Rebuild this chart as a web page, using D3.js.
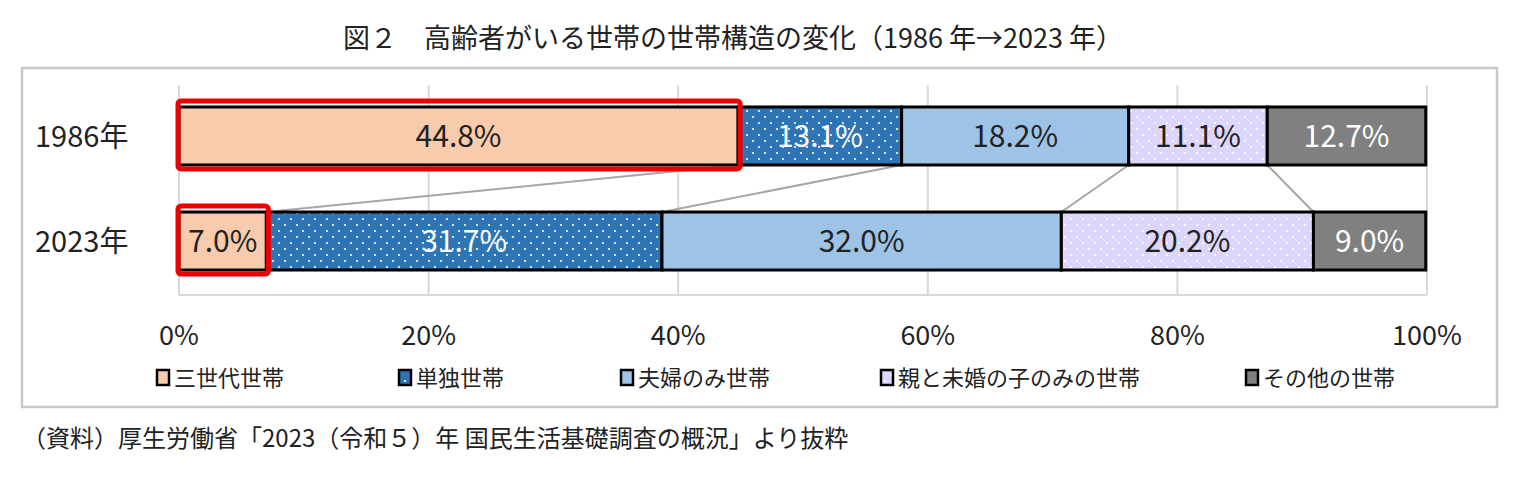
<!DOCTYPE html><html><head><meta charset="utf-8"><script src="https://d3js.org/d3.v7.min.js"></script>
<style>body{margin:0;background:#fff}text{font-family:"Noto Sans CJK JP","Noto Sans",sans-serif}</style></head><body>
<script>
const years=["1986年","2023年"];
const series=["三世代世帯","単独世帯","夫婦のみ世帯","親と未婚の子のみの世帯","その他の世帯"];
const v1986=[44.8,13.1,18.2,11.1,12.7];
const v2023=[7.0,31.7,32.0,20.2,9.0];
const ticks=[0,20,40,60,80,100];
const colors=["#F8CBAD","#2E75B6","#9DC3E6","#DCD6FC","#808080"];
const labelColors=["#222","#fff","#222","#222","#fff"];
const dotted=[false,true,false,true,false];
const W=1523,H=478;
const svg=d3.select("body").append("svg").attr("width",W).attr("height",H);
const defs=svg.append("defs");
colors.forEach((c,i)=>{if(!dotted[i])return;
 const p=defs.append("pattern").attr("id","p"+i).attr("width",12).attr("height",12).attr("patternUnits","userSpaceOnUse");
 p.append("rect").attr("width",12).attr("height",12).attr("fill",c);
 p.append("circle").attr("cx",3).attr("cy",3).attr("r",1.1).attr("fill","#fff");
 p.append("circle").attr("cx",9).attr("cy",9).attr("r",1.1).attr("fill","#fff");});
svg.append("text").attr("x",733).attr("y",48).attr("text-anchor","middle").attr("font-size",27).attr("fill","#222").text("図２　高齢者がいる世帯の世帯構造の変化（1986 年→2023 年）");
svg.append("rect").attr("x",22).attr("y",68).attr("width",1475).attr("height",339).attr("fill","none").attr("stroke","#c8c8c8").attr("stroke-width",2.5);
const x=d3.scaleLinear().domain([0,100]).range([179,1427]);
const y=d3.scaleBand().domain(years).range([80,297]).paddingInner(0.448).paddingOuter(0.257);
ticks.forEach(t=>svg.append("line").attr("x1",x(t)).attr("x2",x(t)).attr("y1",85).attr("y2",295).attr("stroke","#d9d9d9").attr("stroke-width",2));
svg.append("line").attr("x1",x(0)).attr("x2",x(100)).attr("y1",295).attr("y2",295).attr("stroke","#d9d9d9").attr("stroke-width",2);
const data=[v1986,v2023];
const cums=data.map(v=>{let s=0;return v.map(d=>{const a=s;s+=d;return [a,s];});});
for(let i=0;i<4;i++){
 svg.append("line").attr("x1",x(cums[0][i][1])).attr("y1",y(years[0])+y.bandwidth()).attr("x2",x(cums[1][i][1])).attr("y2",y(years[1])).attr("stroke","#a6a6a6").attr("stroke-width",2);
}
data.forEach((v,r)=>{
 const g=svg.append("g");
 g.selectAll("rect").data(v).join("rect").attr("x",(d,i)=>x(cums[r][i][0])).attr("width",(d,i)=>x(cums[r][i][1])-x(cums[r][i][0]))
  .attr("y",y(years[r])).attr("height",y.bandwidth()).attr("fill",(d,i)=>dotted[i]?"url(#p"+i+")":colors[i]).attr("stroke","#000").attr("stroke-width",3);
 g.selectAll("text").data(v).join("text").attr("x",(d,i)=>(x(cums[r][i][0])+x(cums[r][i][1]))/2).attr("y",y(years[r])+y.bandwidth()/2+11)
  .attr("text-anchor","middle").attr("font-size",30).attr("fill",(d,i)=>labelColors[i]).text(d=>d.toFixed(1)+"%");
 svg.append("text").attr("x",35).attr("y",y(years[r])+y.bandwidth()/2+11).attr("font-size",29).attr("fill","#222").text(years[r]);
 svg.append("rect").attr("x",x(0)-1).attr("y",y(years[r])-6).attr("width",x(cums[r][0][1])-x(0)+3).attr("height",y.bandwidth()+10)
  .attr("rx",3).attr("fill","none").attr("stroke","#ee0000").attr("stroke-width",5);
});
ticks.forEach(t=>svg.append("text").attr("x",x(t)).attr("y",345).attr("text-anchor","middle").attr("font-size",27).attr("fill","#222").text(t+"%"));
const lx=[157,399,621,881,1246];
series.forEach((s,i)=>{
 svg.append("rect").attr("x",lx[i]).attr("y",370).attr("width",12).attr("height",15).attr("fill",dotted[i]?"url(#p"+i+")":colors[i]).attr("stroke","#000").attr("stroke-width",2.5);
 svg.append("text").attr("x",lx[i]+17).attr("y",386).attr("font-size",22).attr("fill","#222").text(s);
});
svg.append("text").attr("x",22).attr("y",447).attr("font-size",24).attr("fill","#222").text("（資料）厚生労働省「2023（令和５）年 国民生活基礎調査の概況」より抜粋");
</script></body></html>
